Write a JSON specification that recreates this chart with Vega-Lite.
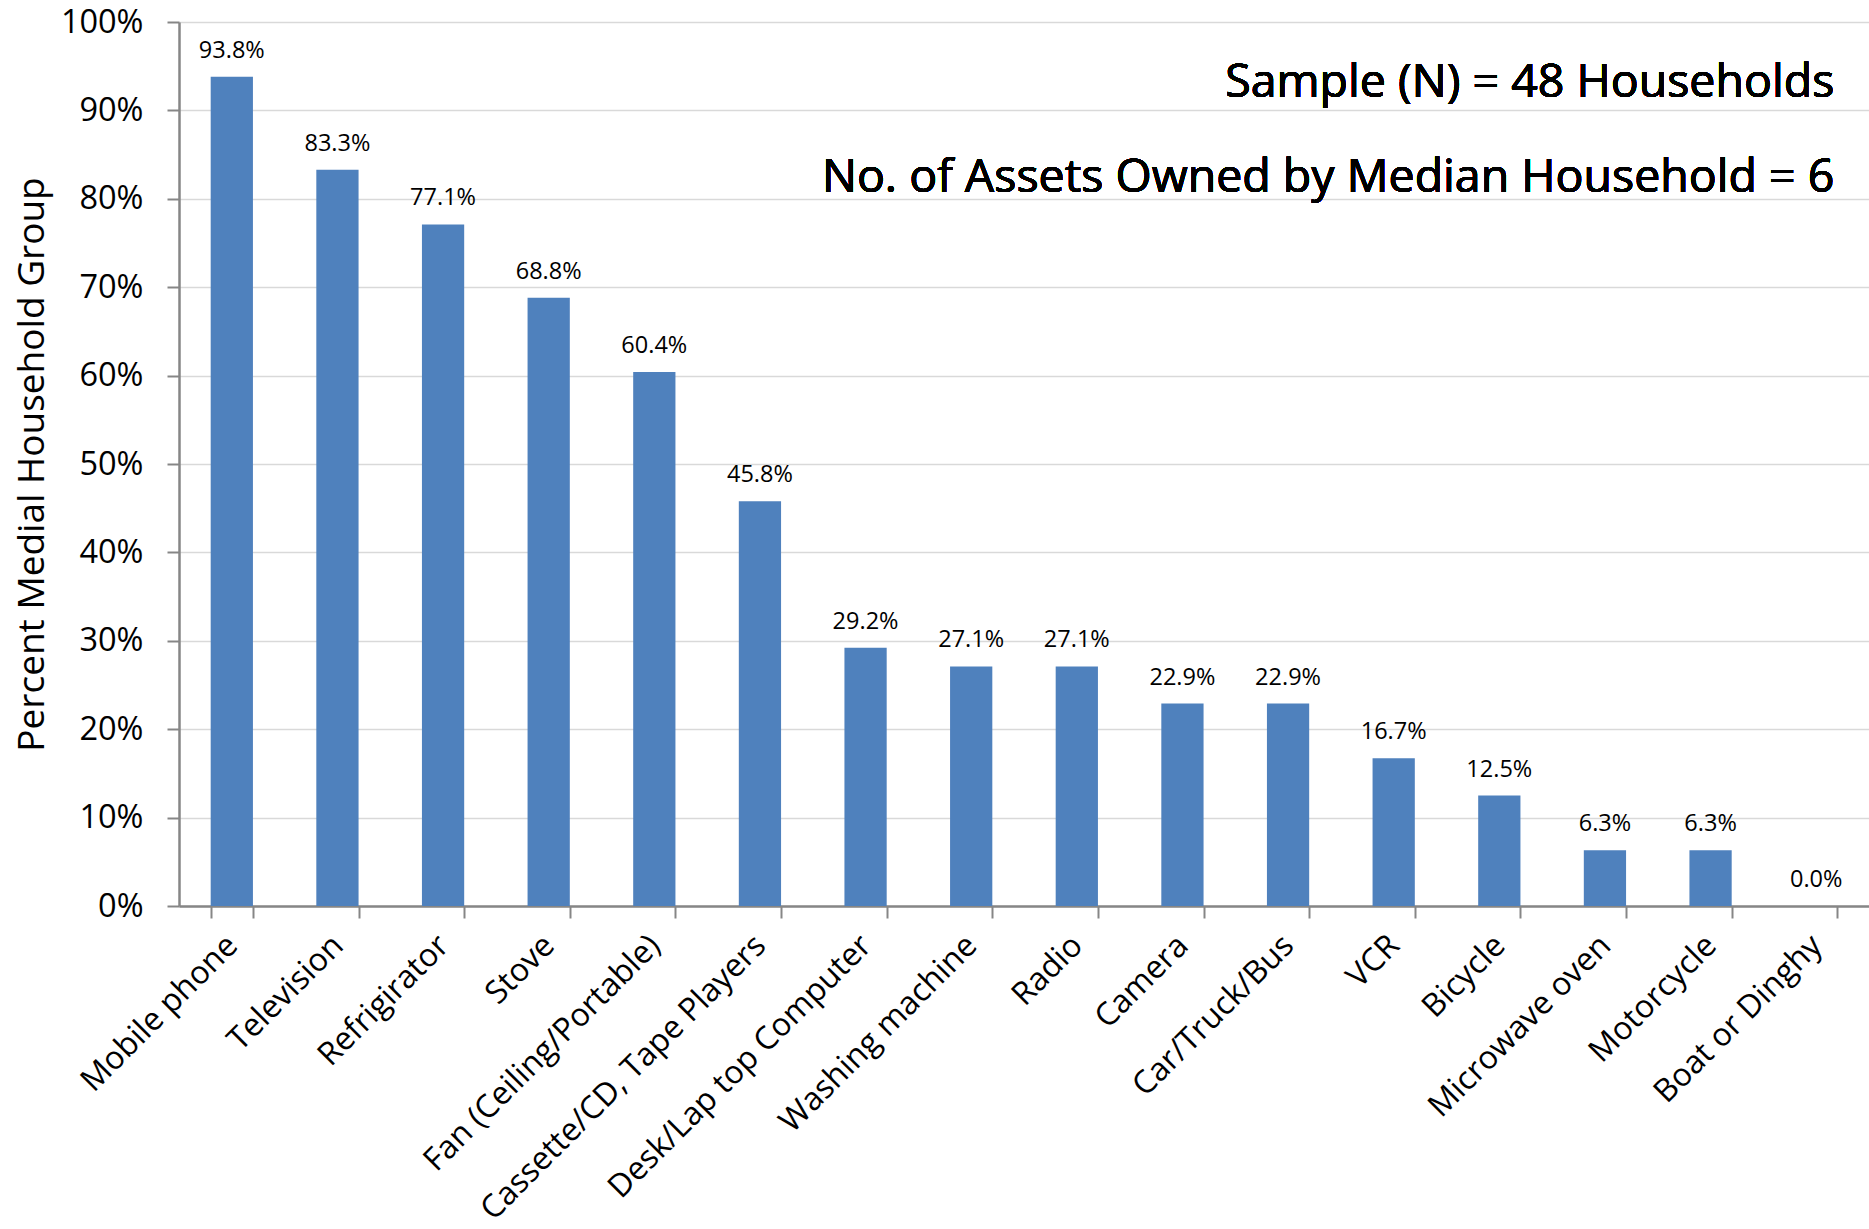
{
  "$schema": "https://vega.github.io/schema/vega-lite/v6.json",
  "autosize": {"type": "none"},
  "padding": {"left": 179, "top": 22, "right": 0, "bottom": 323},
  "width": 1690,
  "height": 884,
  "background": "white",
  "config": {
    "font": "Open Sans",
    "view": {"stroke": null},
    "axis": {"labelColor": "#000000", "titleColor": "#000000", "titleFontWeight": "normal"}
  },
  "data": {
    "values": [
      {"asset": "Mobile phone", "share": 0.938},
      {"asset": "Television", "share": 0.833},
      {"asset": "Refrigirator", "share": 0.771},
      {"asset": "Stove", "share": 0.688},
      {"asset": "Fan (Ceiling/Portable)", "share": 0.604},
      {"asset": "Cassette/CD, Tape Players", "share": 0.458},
      {"asset": "Desk/Lap top Computer", "share": 0.292},
      {"asset": "Washing machine", "share": 0.271},
      {"asset": "Radio", "share": 0.271},
      {"asset": "Camera", "share": 0.229},
      {"asset": "Car/Truck/Bus", "share": 0.229},
      {"asset": "VCR", "share": 0.167},
      {"asset": "Bicycle", "share": 0.125},
      {"asset": "Microwave oven", "share": 0.063},
      {"asset": "Motorcycle", "share": 0.063},
      {"asset": "Boat or Dinghy", "share": 0.0}
    ]
  },
  "encoding": {
    "x": {
      "field": "asset",
      "type": "nominal",
      "sort": null,
      "scale": {"paddingInner": 0.6, "paddingOuter": 0.3},
      "axis": {
        "title": null,
        "labelAngle": -45,
        "labelAlign": "right",
        "labelBaseline": "middle",
        "labelFontSize": 32,
        "labelPadding": 22,
        "labelLimit": 700,
        "labelOverlap": false,
        "tickBand": "extent",
        "tickSize": 12,
        "tickWidth": 2,
        "tickColor": "#868686",
        "domainColor": "#868686",
        "domainWidth": 2.5
      }
    },
    "y": {
      "field": "share",
      "type": "quantitative",
      "scale": {"domain": [0, 1], "nice": false},
      "axis": {
        "title": "Percent Medial Household Group",
        "titleFontSize": 37,
        "titleX": -128,
        "titleY": 442,
        "format": ".0%",
        "values": [0, 0.1, 0.2, 0.3, 0.4, 0.5, 0.6, 0.7, 0.8, 0.9, 1],
        "labelOverlap": false,
        "labelFlush": false,
        "labelFontSize": 32.5,
        "labelPadding": 24,
        "tickSize": 12,
        "tickWidth": 2,
        "tickColor": "#868686",
        "domainColor": "#868686",
        "domainWidth": 2.5,
        "gridColor": "#d9d9d9",
        "gridWidth": 1.5
      }
    }
  },
  "layer": [
    {
      "mark": {"type": "bar", "color": "#4f81bd"}
    },
    {
      "mark": {"type": "text", "fontSize": 23.5, "baseline": "alphabetic", "dy": -19, "color": "#000000"},
      "encoding": {"text": {"field": "share", "type": "quantitative", "format": ".1%"}}
    },
    {
      "mark": {"type": "text", "fontSize": 46.5, "align": "right", "baseline": "alphabetic", "dx": -3, "color": "#000000", "text": "Sample (N) = 48 Households"},
      "encoding": {
        "x": {"datum": "Boat or Dinghy", "bandPosition": 1},
        "y": {"datum": 0.915}
      }
    },
    {
      "mark": {"type": "text", "fontSize": 46.5, "align": "right", "baseline": "alphabetic", "dx": -3, "color": "#000000", "text": "No. of Assets Owned by Median Household = 6"},
      "encoding": {
        "x": {"datum": "Boat or Dinghy", "bandPosition": 1},
        "y": {"datum": 0.808}
      }
    }
  ]
}
